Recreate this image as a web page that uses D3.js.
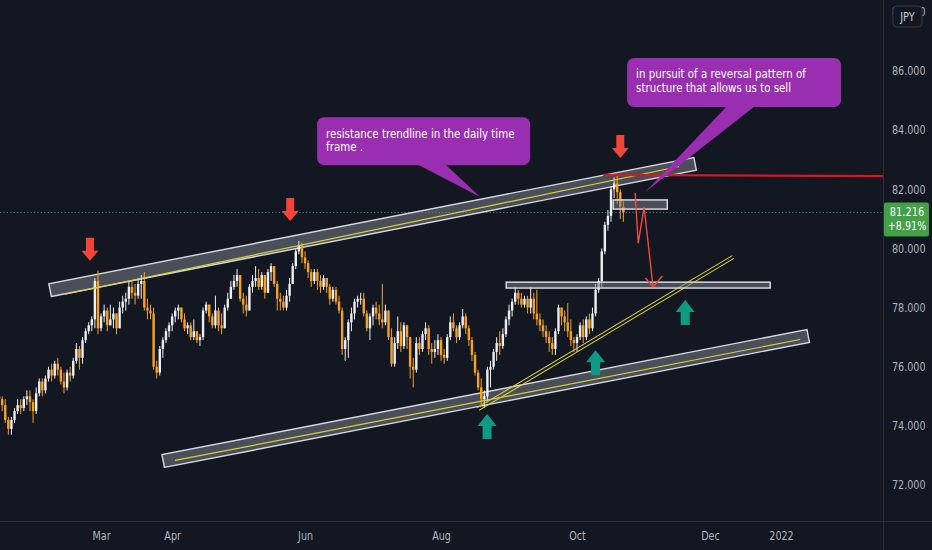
<!DOCTYPE html>
<html>
<head>
<meta charset="utf-8">
<title>NZDJPY daily</title>
<script src="https://d3js.org/d3.v7.min.js"></script>
<style>
  body { margin: 0; background: #131722; }
  svg { display: block; }
</style>
</head>
<body>
<div id="chart"></div>
<script>
// daily bars, weekdays only, first bar on 2021-01-13
const firstDay = '2021-01-13';
const firstOpen = 75.0;

const closes = [
  74.9, 74.7, 74.2, 73.9, 74.2, 74.5, 74.7, 74.6, 74.9, 75.0, 74.8, 74.5, 75.1, // Jan
  75.5, 75.2, 75.6, 75.9, 75.7, 76.1, 75.9, 75.5, 75.3, 75.8, 75.7, 76.2, 76.6, 76.3, 76.9, 77.2, 77.4, 77.6, 78.9, 77.3, // Feb
  77.7, 77.9, 77.4, 77.6, 77.8, 77.3, 78.0, 78.2, 78.3, 78.7, 78.5, 78.4, 78.8, 78.9, 78.0, 77.9, 77.8, 76.0, 75.8, 76.6, 76.9, 77.2, 77.4, // Mar
  77.7, 77.9, 78.0, 77.6, 77.3, 77.4, 77.0, 77.2, 76.9, 77.0, 77.9, 78.1, 77.7, 77.4, 77.9, 77.4, 77.3, 78.0, 78.3, 78.7, 78.9, 79.1, // Apr
  78.3, 78.1, 77.9, 78.7, 78.9, 79.0, 78.7, 79.1, 78.5, 79.2, 79.4, 78.8, 78.3, 78.2, 78.0, 78.4, 78.8, 79.4, 79.9, 80.1, 79.7, // May
  79.5, 79.2, 78.9, 79.2, 78.9, 78.7, 79.0, 78.7, 78.3, 78.6, 78.2, 77.9, 76.6, 76.9, 77.5, 77.8, 78.2, 78.3, 78.3, 77.8, 77.3, 77.7, // Jun
  78.0, 77.8, 77.6, 77.5, 77.9, 77.0, 76.1, 76.8, 77.2, 76.7, 77.4, 77.0, 76.0, 75.9, 76.8, 76.6, 77.1, 77.3, 76.6, 76.5, 76.6, 76.9, // Jul
  76.4, 76.3, 77.0, 77.5, 77.3, 77.0, 77.4, 77.7, 77.3, 76.9, 76.4, 75.8, 75.3, 74.9, 75.0, 75.9, 76.0, 76.5, 76.8, 76.7, 77.1, 77.6, // Aug
  77.9, 78.2, 78.5, 78.3, 78.1, 78.3, 78.0, 78.3, 77.8, 77.6, 77.4, 77.2, 77.0, 76.8, 76.6, 77.2, 78.0, 77.7, 77.5, 77.2, 76.9, 76.8, // Sep
  77.0, 77.4, 77.0, 77.6, 77.3, 77.8, 78.6, 78.9, 79.9, 80.8, 81.1, 82.0, 82.2, 81.9, 81.4, 81.216 // Oct
];
const highs = [
  75.1, 75.0, 74.9, 74.3, 74.3, 74.6, 74.9, 74.9, 75.0, 75.2, 75.2, 74.9, 75.3,
  75.6, 75.6, 75.7, 76.0, 76.1, 76.2, 76.3, 76.0, 75.8, 75.9, 76.0, 76.3, 76.8, 76.7, 77.0, 77.3, 77.5, 77.7, 79.0, 79.25,
  77.8, 78.1, 78.0, 78.1, 78.0, 77.8, 78.2, 78.4, 78.5, 78.9, 78.9, 78.8, 79.0, 79.1, 79.2, 78.3, 78.1, 78.0, 76.2, 76.7, 77.0, 77.3, 77.5,
  77.8, 78.0, 78.1, 78.0, 77.8, 77.5, 77.5, 77.6, 77.2, 77.1, 78.0, 78.2, 78.1, 77.8, 78.4, 78.0, 77.8, 78.1, 78.5, 78.9, 79.1, 79.3,
  79.0, 78.5, 78.4, 78.8, 79.1, 79.4, 79.3, 79.2, 79.1, 79.3, 79.5, 79.4, 78.9, 78.5, 78.4, 78.6, 79.0, 79.5, 80.0, 80.25, 80.2,
  79.9, 79.6, 79.3, 79.3, 79.3, 79.1, 79.1, 79.0, 78.8, 78.7, 78.7, 78.4, 78.0, 77.0, 77.6, 78.0, 78.3, 78.4, 78.5, 78.5, 77.9, 77.8,
  78.1, 78.2, 78.1, 78.8, 78.1, 77.8, 77.3, 77.0, 77.7, 77.5, 77.5, 77.4, 77.0, 76.3, 77.0, 77.0, 77.2, 77.5, 77.4, 76.8, 76.9, 77.1,
  77.0, 76.6, 77.1, 77.7, 77.8, 77.4, 77.5, 77.95, 77.8, 77.4, 77.0, 76.5, 75.9, 75.6, 75.2, 76.0, 76.2, 76.6, 77.0, 77.2, 77.3, 77.7,
  78.1, 78.3, 78.7, 78.6, 78.5, 78.4, 78.4, 78.7, 78.5, 78.6, 77.8, 77.6, 77.4, 77.2, 77.0, 77.3, 78.1, 78.0, 77.9, 78.15, 77.6, 77.0,
  77.1, 77.5, 77.6, 77.7, 77.8, 78.0, 78.8, 79.0, 80.0, 80.9, 81.3, 82.1, 82.4, 82.45, 82.0, 81.6
];
const lows = [
  74.6, 74.5, 74.1, 73.7, 73.7, 74.1, 74.4, 74.4, 74.5, 74.7, 74.5, 74.1, 74.4,
  75.0, 75.0, 75.1, 75.5, 75.5, 75.6, 75.7, 75.4, 75.1, 75.2, 75.5, 75.6, 76.1, 75.9, 76.1, 76.8, 77.1, 77.2, 77.3, 77.1,
  77.2, 77.5, 77.2, 77.4, 77.3, 77.1, 77.3, 77.8, 77.9, 78.1, 78.3, 78.1, 78.3, 78.3, 77.9, 77.6, 77.6, 75.9, 75.6, 75.7, 76.3, 76.8, 77.0,
  77.2, 77.5, 77.6, 77.5, 77.2, 77.1, 76.9, 76.9, 76.8, 76.7, 76.9, 77.8, 77.5, 77.3, 77.3, 77.2, 77.1, 77.3, 77.9, 78.3, 78.6, 78.7,
  78.2, 77.8, 77.7, 77.9, 78.5, 78.7, 78.6, 78.6, 78.3, 78.5, 78.9, 78.7, 77.9, 77.9, 77.9, 77.9, 78.2, 78.8, 79.3, 79.8, 79.5,
  79.3, 79.0, 78.7, 78.8, 78.6, 78.5, 78.6, 78.5, 78.1, 78.2, 78.1, 77.8, 76.4, 76.2, 76.3, 77.2, 77.6, 78.0, 78.1, 77.7, 77.2, 76.9,
  77.4, 77.6, 77.4, 77.3, 77.4, 76.9, 76.0, 76.0, 76.6, 76.5, 76.6, 76.6, 75.6, 75.3, 75.8, 76.4, 76.5, 76.9, 76.4, 76.1, 76.3, 76.4,
  76.2, 76.1, 76.2, 76.9, 77.2, 76.8, 76.9, 77.3, 77.1, 76.7, 76.2, 75.7, 75.2, 74.7, 74.6, 74.8, 75.3, 75.9, 76.2, 76.4, 76.6, 77.0,
  77.4, 77.7, 78.1, 78.1, 78.0, 78.0, 77.8, 77.8, 77.6, 77.4, 77.2, 77.0, 76.8, 76.5, 76.4, 76.4, 77.1, 77.4, 77.2, 77.0, 76.7, 76.5,
  76.5, 76.9, 76.8, 76.9, 77.1, 77.2, 77.7, 78.5, 78.7, 79.8, 80.6, 80.9, 81.7, 81.5, 81.0, 80.9
];

const yTicks = [72, 74, 76, 78, 80, 82, 84, 86, 88];
const xTickDates = ['2021-03-01', '2021-04-01', '2021-06-01', '2021-08-02', '2021-10-01', '2021-12-01', '2022-01-03'];
const xTickLabels = ['Mar', 'Apr', 'Jun', 'Aug', 'Oct', 'Dec', '2022'];
const lastPrice = 81.216;
const changeText = '+8.91%';

// drawings, as [bar index, price]
const upperBand = [[16.5, 78.59], [225.2, 82.86]];
const upperMid = [[21.4, 78.45], [220, 82.77]];
const lowerBand = [[53.1, 72.81], [261.8, 77.04]];
const lowerMid = [[56.9, 72.83], [259.2, 76.92]];
const riseLine = [[155.0, 74.57], [237.5, 79.71]];
const supportZone = [[164.1, 78.86], [249.5, 78.66]];
const topZone = [[198.7, 81.64], [216.2, 81.33]];
const redLevel = [[195.5, 82.49], [290, 82.44]];
const zigzag = [[205.8, 81.87], [206.8, 80.18], [208.7, 81.40], [211.6, 78.70]];
const zigHead = [[209.1, 79.0], [211.6, 78.70], [214.6, 79.07]];
const sellArrows = [[29.4, 79.58], [94.2, 80.93], [201.0, 83.06]];
const buyArrows = [[157.9, 74.40], [193.0, 76.56], [222.0, 78.26]];
const notes = [
  { box: [102.9, 84.44], tip: [155.7, 81.74], w: 213, h: 48,
    lines: ['resistance trendline in the daily time', 'frame .'] },
  { box: [203.2, 86.44], tip: [209.1, 81.91], w: 214, h: 49,
    lines: ['in pursuit of a reversal pattern of', 'structure that allows us to sell'] }
];

const width = 932, height = 550;
const plotW = 883, plotH = 521;
const bg = '#131722';
const upColor = '#eceef2', downColor = '#f5a321';
const font = '"DejaVu Sans", sans-serif';

// squeeze text sideways to the narrow look of the original
function narrow(sel, k) {
  sel.each(function () {
    const t = d3.select(this);
    const tx = +t.attr('x') || 0;
    t.attr('x', 0).attr('transform', `translate(${tx},0) scale(${k},1)`);
  });
}

// weekday calendar, long enough for the axis labels
const parse = d3.timeParse('%Y-%m-%d');
const calendar = d3.timeDay.range(parse(firstDay), parse('2022-02-01'))
  .filter(d => d.getDay() !== 0 && d.getDay() !== 6);
const indexOf = s => calendar.findIndex(d => +d === +parse(s));

const x = d3.scaleLinear().domain([0.3, 286]).range([0, plotW]);
const y = d3.scaleLinear().domain([72, 86]).range([485, 71]);
const pt = p => [x(p[0]), y(p[1])];

const bars = closes.map((c, i) => ({
  i, c, h: highs[i], l: lows[i], o: i ? closes[i - 1] : firstOpen
}));

const svg = d3.select('#chart').append('svg')
  .attr('width', width).attr('height', height)
  .style('font-family', font);

svg.append('rect').attr('width', width).attr('height', height).attr('fill', bg);

svg.append('defs').append('clipPath').attr('id', 'plot')
  .append('rect').attr('width', plotW).attr('height', plotH);

const plot = svg.append('g').attr('clip-path', 'url(#plot)');

// last price dotted line
plot.append('line')
  .attr('x1', 0).attr('x2', plotW)
  .attr('y1', y(lastPrice)).attr('y2', y(lastPrice))
  .attr('stroke', '#3f8f6a').attr('stroke-width', 1)
  .attr('stroke-dasharray', '1.2,2.2');

// slanted bands: rectangle turned along the line
function band(g, p, half) {
  const [a, b] = [pt(p[0]), pt(p[1])];
  const dx = b[0] - a[0], dy = b[1] - a[1];
  const len = Math.hypot(dx, dy);
  const nx = -dy / len * half, ny = dx / len * half;
  g.append('path')
    .attr('d', `M${a[0] + nx},${a[1] + ny}L${b[0] + nx},${b[1] + ny}L${b[0] - nx},${b[1] - ny}L${a[0] - nx},${a[1] - ny}Z`)
    .attr('fill', 'rgba(120,123,134,0.55)')
    .attr('stroke', '#d6d8de').attr('stroke-width', 1.4);
}
function segment(g, p, color, w, off) {
  const [a, b] = [pt(p[0]), pt(p[1])];
  const dx = b[0] - a[0], dy = b[1] - a[1];
  const len = Math.hypot(dx, dy);
  const nx = -dy / len * (off || 0), ny = dx / len * (off || 0);
  g.append('line')
    .attr('x1', a[0] + nx).attr('y1', a[1] + ny)
    .attr('x2', b[0] + nx).attr('y2', b[1] + ny)
    .attr('stroke', color).attr('stroke-width', w);
}

band(plot, upperBand, 6.5);
band(plot, lowerBand, 6.5);

// candles
const cg = plot.append('g');
const bw = 2.4;
cg.selectAll('line.wick').data(bars).join('line')
  .attr('class', 'wick')
  .attr('x1', d => x(d.i)).attr('x2', d => x(d.i))
  .attr('y1', d => y(Math.max(d.h, d.o, d.c)))
  .attr('y2', d => y(Math.min(d.l, d.o, d.c)))
  .attr('stroke', d => d.c >= d.o ? upColor : downColor)
  .attr('stroke-width', 1);
cg.selectAll('rect.body').data(bars).join('rect')
  .attr('class', 'body')
  .attr('x', d => x(d.i) - bw / 2)
  .attr('width', bw)
  .attr('y', d => y(Math.max(d.o, d.c)))
  .attr('height', d => Math.max(1, Math.abs(y(d.o) - y(d.c))))
  .attr('fill', d => d.c >= d.o ? upColor : downColor);

// yellow trend lines
segment(plot, upperMid, '#d9cf3c', 1.2);
segment(plot, lowerMid, '#d9cf3c', 1.2);
segment(plot, riseLine, '#d9cf3c', 1.1, 1.6);
segment(plot, riseLine, '#d9cf3c', 1.1, -1.6);

// horizontal zones
[supportZone, topZone].forEach(z => {
  const [a, b] = [pt(z[0]), pt(z[1])];
  plot.append('rect')
    .attr('x', a[0]).attr('y', a[1])
    .attr('width', b[0] - a[0]).attr('height', b[1] - a[1])
    .attr('fill', 'rgba(120,123,134,0.55)')
    .attr('stroke', '#e2e4e8').attr('stroke-width', 1.4);
});

// red level
segment(plot, redLevel, '#e0141c', 2.2);

// expected path
const line = d3.line().x(d => x(d[0])).y(d => y(d[1]));
plot.append('path').attr('d', line(zigzag))
  .attr('fill', 'none').attr('stroke', '#ef4b3c').attr('stroke-width', 1.4);
plot.append('path').attr('d', line(zigHead))
  .attr('fill', 'none').attr('stroke', '#ef4b3c').attr('stroke-width', 1.4);

// arrows
plot.selectAll('path.sell').data(sellArrows).join('path')
  .attr('class', 'sell')
  .attr('transform', d => `translate(${x(d[0])},${y(d[1])})`)
  .attr('d', 'M0,0L-8.5,-10L-4,-10L-4,-23L4,-23L4,-10L8.5,-10Z')
  .attr('fill', '#f2453a');
plot.selectAll('path.buy').data(buyArrows).join('path')
  .attr('class', 'buy')
  .attr('transform', d => `translate(${x(d[0])},${y(d[1])})`)
  .attr('d', 'M0,0L-9.5,12L-4.5,12L-4.5,25L4.5,25L4.5,12L9.5,12Z')
  .attr('fill', '#0f9a84');

// callouts
notes.forEach(n => {
  const [bx, by] = pt(n.box);
  const [tx, ty] = pt(n.tip);
  const g = svg.append('g');
  g.append('path')
    .attr('d', `M${bx + 100},${by + n.h - 1}L${tx},${ty}L${bx + 128},${by + n.h - 1}Z`)
    .attr('fill', '#9a2eb0');
  g.append('rect')
    .attr('x', bx).attr('y', by).attr('width', n.w).attr('height', n.h)
    .attr('rx', 7).attr('fill', '#9a2eb0');
  g.selectAll('text').data(n.lines).join('text')
    .attr('x', bx + 9).attr('y', (d, i) => by + 20.5 + i * 13.5)
    .attr('fill', '#ffffff').attr('font-size', 12.5)
    .text(d => d)
    .call(narrow, 0.82);
});

// axes frame
svg.append('line').attr('x1', 0).attr('x2', width).attr('y1', plotH + 0.5).attr('y2', plotH + 0.5)
  .attr('stroke', '#2a2e39');
svg.append('line').attr('x1', plotW + 0.5).attr('x2', plotW + 0.5).attr('y1', 0).attr('y2', height)
  .attr('stroke', '#2a2e39');

// price axis
const yAxis = svg.append('g').attr('transform', `translate(${plotW},0)`)
  .call(d3.axisRight(y).tickValues(yTicks).tickFormat(d3.format('.3f')).tickSize(0).tickPadding(9));
yAxis.select('.domain').remove();
yAxis.selectAll('text').attr('fill', '#b2b5be').attr('font-size', 12).attr('font-family', font)
  .call(narrow, 0.8);

// time axis
const xAxis = svg.append('g').attr('transform', `translate(0,${plotH})`)
  .call(d3.axisBottom(x).tickValues(xTickDates.map(indexOf))
    .tickFormat((d, i) => xTickLabels[i]).tickSize(0).tickPadding(10));
xAxis.select('.domain').remove();
xAxis.selectAll('text').attr('fill', '#b2b5be').attr('font-size', 12).attr('font-family', font)
  .call(narrow, 0.8);

// last price label
const lp = svg.append('g').attr('transform', `translate(${plotW + 1},${y(lastPrice) - 10})`);
lp.append('rect').attr('width', 45).attr('height', 34).attr('rx', 2).attr('fill', '#43a047');
lp.append('text').attr('x', 23).attr('y', 14).attr('text-anchor', 'middle')
  .attr('fill', '#fff').attr('font-size', 12).text(d3.format('.3f')(lastPrice)).call(narrow, 0.82);
lp.append('text').attr('x', 23).attr('y', 28).attr('text-anchor', 'middle')
  .attr('fill', '#fff').attr('font-size', 12).text(changeText).call(narrow, 0.8);

// currency badge
const badge = svg.append('g').attr('transform', 'translate(893,6)');
badge.append('rect').attr('width', 29).attr('height', 21).attr('rx', 4)
  .attr('fill', bg).attr('stroke', '#363a45');
badge.append('text').attr('x', 14.5).attr('y', 15).attr('text-anchor', 'middle')
  .attr('fill', '#c8cbd2').attr('font-size', 11.5).text('JPY').call(narrow, 0.85);
</script>
</body>
</html>
